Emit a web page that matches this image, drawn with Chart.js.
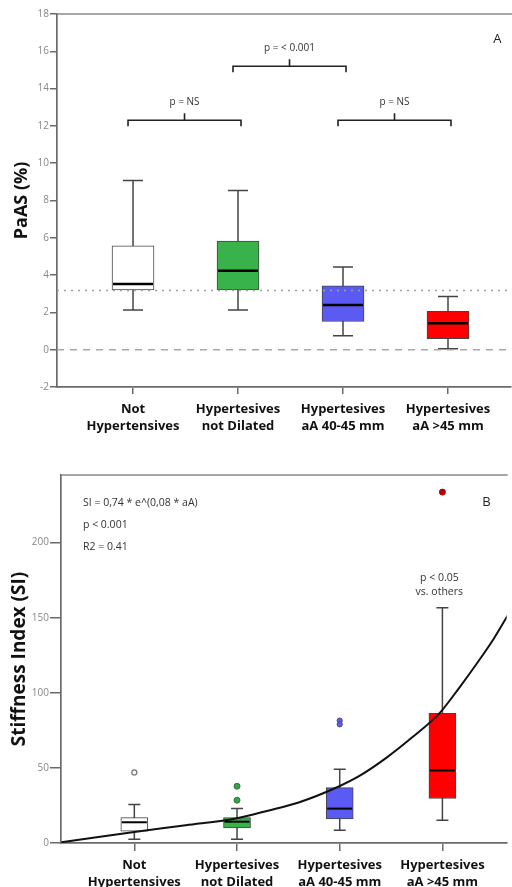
<!DOCTYPE html>
<html>
<head>
<meta charset="utf-8">
<script src="https://cdn.jsdelivr.net/npm/chart.js@4.4.1/dist/chart.umd.min.js"></script>
<style>
  body { margin: 0; background: #fff; }
  canvas { display: block; }
</style>
</head>
<body>
<canvas id="paasChart" width="512" height="445"></canvas>
<canvas id="siChart" width="512" height="442"></canvas>
<script>
var groups = [["Not", "Hypertensives"], ["Hypertesives", "not Dilated"], ["Hypertesives", "aA 40-45 mm"], ["Hypertesives", "aA >45 mm"]];
var groupPos = [0, 1, 2, 3];
var boxColors = ['#ffffff', '#38b24a', '#5b5bf3', '#ff0000'];

// panel A: PaAS (%)
var paasLow = [2.13, 2.13, 0.75, 0.05];
var paasQ1 = [3.2, 3.2, 1.51, 0.59];
var paasMedian = [3.52, 4.23, 2.40, 1.42];
var paasQ3 = [5.57, 5.83, 3.42, 2.06];
var paasHigh = [9.07, 8.54, 4.43, 2.85];
var paasTicks = [-2, 0, 2, 4, 6, 8, 10, 12, 14, 16, 18];
var paasDotted = 3.17;
var paasCompare = [[0, 1, 12.3, 'p = NS'], [1, 2, 15.2, 'p = < 0.001'], [2, 3, 12.3, 'p = NS']];

// panel B: Stiffness Index (SI)
var siLow = [2.5, 2.5, 8.5, 15.1];
var siQ1 = [7.8, 10, 16, 29.6];
var siMedian = [13.8, 14.2, 22.9, 48.3];
var siQ3 = [16.9, 16.9, 36.9, 86.3];
var siHigh = [25.6, 22.9, 49.1, 156.7];
var siOutliers = [[47], [37.8, 28.5], [81.5, 79], [233.6]];
var siTicks = [0, 50, 100, 150, 200];
// exponential fit, points
var fitX = [-0.71, -0.35, 0, 0.5, 1.0, 1.3, 1.6, 1.98, 2.2, 2.46, 2.7, 2.97, 3.16, 3.33, 3.5, 3.64];
var fitY = [0.5, 4, 7.3, 11.8, 16.5, 21.5, 27, 37.3, 45, 57, 70, 86.3, 103, 119, 136, 152];

var fontFam = "'Open Sans', 'DejaVu Sans', sans-serif";
var axisGray = '#6a6a6a';

function boxPlugin(low, high, median, capW, medW) {
  return {
    id: 'boxes',
    beforeDatasetsDraw: function(chart) {
      var ctx = chart.ctx, xs = chart.scales.x, ys = chart.scales.y;
      ctx.save();
      ctx.strokeStyle = '#444';
      ctx.lineWidth = 1.5;
      for (var i = 0; i < groupPos.length; i++) {
        var x = xs.getPixelForValue(groupPos[i]);
        var y1 = ys.getPixelForValue(low[i]), y2 = ys.getPixelForValue(high[i]);
        ctx.beginPath();
        ctx.moveTo(x, y1); ctx.lineTo(x, y2);
        ctx.moveTo(x - capW / 2, y1); ctx.lineTo(x + capW / 2, y1);
        ctx.moveTo(x - capW / 2, y2); ctx.lineTo(x + capW / 2, y2);
        ctx.stroke();
      }
      ctx.restore();
    },
    afterDatasetsDraw: function(chart) {
      var ctx = chart.ctx, xs = chart.scales.x, ys = chart.scales.y;
      ctx.save();
      ctx.strokeStyle = '#000';
      ctx.lineWidth = medW;
      for (var i = 0; i < groupPos.length; i++) {
        var x = xs.getPixelForValue(groupPos[i]);
        var w = chart.getDatasetMeta(chart.data.datasets.length - 1).data[i].width;
        var y = ys.getPixelForValue(median[i]);
        ctx.beginPath();
        ctx.moveTo(x - w / 2 + 1, y); ctx.lineTo(x + w / 2 - 1, y);
        ctx.stroke();
      }
      ctx.restore();
    }
  };
}

var framePlugin = {
  id: 'frame',
  afterDraw: function(chart) {
    var ctx = chart.ctx, a = chart.chartArea;
    ctx.save();
    ctx.strokeStyle = '#8a8a8a';
    ctx.lineWidth = 1.5;
    ctx.beginPath();
    ctx.moveTo(a.left, a.top); ctx.lineTo(a.right + 1, a.top);
    ctx.stroke();
    ctx.restore();
  }
};

function textPlugin(items) {
  return {
    id: 'texts',
    afterDraw: function(chart) {
      var ctx = chart.ctx, xs = chart.scales.x, ys = chart.scales.y;
      ctx.save();
      ctx.textBaseline = 'middle';
      items.forEach(function(t) {
        ctx.font = t.font;
        ctx.fillStyle = t.color || '#333';
        ctx.textAlign = t.align || 'center';
        ctx.fillText(t.text, xs.getPixelForValue(t.x), ys.getPixelForValue(t.y));
      });
      ctx.restore();
    }
  };
}

var bracketPlugin = {
  id: 'brackets',
  afterDraw: function(chart) {
    var ctx = chart.ctx, xs = chart.scales.x, ys = chart.scales.y;
    ctx.save();
    ctx.strokeStyle = '#222';
    ctx.lineWidth = 1.6;
    paasCompare.forEach(function(c) {
      var x1 = xs.getPixelForValue(c[0]) - 5, x2 = xs.getPixelForValue(c[1]) + 3;
      var y = ys.getPixelForValue(c[2]);
      var xm = (x1 + x2) / 2;
      ctx.beginPath();
      ctx.moveTo(x1, y + 6); ctx.lineTo(x1, y); ctx.lineTo(x2, y); ctx.lineTo(x2, y + 6);
      ctx.moveTo(xm, y); ctx.lineTo(xm, y - 7);
      ctx.stroke();
      ctx.font = '10px ' + fontFam;
      ctx.fillStyle = '#333';
      ctx.textAlign = 'center';
      ctx.textBaseline = 'middle';
      ctx.fillText(c[3], xm, y - 18);
    });
    ctx.restore();
  }
};

function xAxis(min, max, height, tickLen, pad) {
  return {
    type: 'linear', min: min, max: max, offset: false,
    afterBuildTicks: function(s) { s.ticks = groupPos.map(function(v) { return { value: v }; }); },
    afterFit: function(s) { s.height = height; },
    ticks: {
      callback: function(v) { return groups[v]; },
      font: { family: fontFam, weight: 'bold', size: 13, lineHeight: 1.3 },
      color: '#111', padding: pad, maxRotation: 0, autoSkip: false
    },
    grid: { display: true, offset: false, drawOnChartArea: false, tickLength: tickLen, color: axisGray, lineWidth: 1.5 },
    border: { color: axisGray, width: 1.7 }
  };
}

function yAxis(min, max, tickVals, width, tickLen, title, titleSize, titlePad) {
  return {
    type: 'linear', min: min, max: max,
    afterBuildTicks: function(s) { s.ticks = tickVals.map(function(v) { return { value: v }; }); },
    afterFit: function(s) { s.width = width; },
    ticks: { font: { family: fontFam, size: 10 }, color: '#888', padding: 1 },
    grid: { display: true, drawOnChartArea: false, tickLength: tickLen, color: axisGray, lineWidth: 1.5 },
    border: { color: axisGray, width: 1.7 },
    title: { display: true, text: title, color: '#111', font: { family: fontFam, weight: 'bold', size: titleSize }, padding: { top: titlePad, bottom: 0 } }
  };
}

function boxData(q1, q3) {
  return groupPos.map(function(p, i) { return { x: p, y: [q1[i], q3[i]] }; });
}

var commonOpts = {
  responsive: false,
  devicePixelRatio: 1,
  animation: false,
  plugins: { legend: { display: false }, tooltip: { enabled: false } }
};

var ctxA = document.getElementById('paasChart').getContext('2d');
var chartA = new Chart(ctxA, {
  type: 'bar',
  data: {
    datasets: [
      {
        type: 'line', data: [{ x: -0.724, y: paasDotted }, { x: 3.6, y: paasDotted }],
        borderColor: '#a0a0a0', borderWidth: 1.5, borderDash: [2, 5], pointRadius: 0
      },
      {
        type: 'line', data: [{ x: -0.724, y: 0 }, { x: 3.6, y: 0 }],
        borderColor: '#a8a8a8', borderWidth: 1.5, borderDash: [7, 6], pointRadius: 0
      },
      {
        type: 'bar', data: boxData(paasQ1, paasQ3),
        backgroundColor: boxColors, borderColor: '#444', borderWidth: 1,
        borderSkipped: false, barThickness: 42
      }
    ]
  },
  options: Object.assign({}, commonOpts, {
    layout: { padding: { top: 14, right: 1, left: 0, bottom: 0 } },
    scales: {
      x: xAxis(-0.724, 3.6, 58, 7, 6.5),
      y: yAxis(-2, 18, paasTicks, 57, 7, 'PaAS (%)', 18, 11)
    }
  }),
  plugins: [boxPlugin(paasLow, paasHigh, paasMedian, 20, 2.5), framePlugin, bracketPlugin,
    textPlugin([{ text: 'A', x: 3.47, y: 16.65, font: '13px ' + fontFam, color: '#222' }])]
});

function outlierPoints(k) {
  return siOutliers[k].map(function(v) { return { x: groupPos[k], y: v }; });
}

var ctxB = document.getElementById('siChart').getContext('2d');
var chartB = new Chart(ctxB, {
  type: 'bar',
  data: {
    datasets: [
      {
        type: 'line', data: fitX.map(function(x, i) { return { x: x, y: fitY[i] }; }),
        borderColor: '#111', borderWidth: 2, pointRadius: 0, cubicInterpolationMode: 'monotone'
      },
      { type: 'scatter', data: outlierPoints(0), pointRadius: 2.5, pointBackgroundColor: '#fff', pointBorderColor: '#777', pointBorderWidth: 1.3 },
      { type: 'scatter', data: outlierPoints(1), pointRadius: 3, pointBackgroundColor: '#3aa048', pointBorderColor: '#2d7a38', pointBorderWidth: 1 },
      { type: 'scatter', data: outlierPoints(2), pointRadius: 2.6, pointBackgroundColor: '#6060e0', pointBorderColor: '#4444aa', pointBorderWidth: 1 },
      { type: 'scatter', data: outlierPoints(3), pointRadius: 3, pointBackgroundColor: '#b80000', pointBorderColor: '#a00000', pointBorderWidth: 1 },
      {
        type: 'bar', data: boxData(siQ1, siQ3),
        backgroundColor: boxColors, borderColor: '#444', borderWidth: 1,
        borderSkipped: false, barThickness: 27
      }
    ]
  },
  options: Object.assign({}, commonOpts, {
    layout: { padding: { top: 30, right: 1, left: 0, bottom: 0 } },
    scales: {
      x: xAxis(-0.714, 3.626, 44, 8, 5.5),
      y: yAxis(0, 245, siTicks, 61, 11, 'Stiffness Index (SI)', 19, 8)
    }
  }),
  plugins: [boxPlugin(siLow, siHigh, siMedian, 12, 2), framePlugin,
    textPlugin([
      { text: 'B', x: 3.43, y: 227, font: '13px ' + fontFam, color: '#222' },
      { text: 'SI = 0,74 * e^(0,08 * aA)', x: -0.5, y: 226.5, font: '10.5px ' + fontFam, align: 'left' },
      { text: 'p < 0.001', x: -0.5, y: 211.8, font: '10.5px ' + fontFam, align: 'left' },
      { text: 'R2 = 0.41', x: -0.5, y: 197.1, font: '10.5px ' + fontFam, align: 'left' },
      { text: 'p < 0.05', x: 2.97, y: 176.5, font: '10.5px ' + fontFam },
      { text: 'vs. others', x: 2.97, y: 167.2, font: '10.5px ' + fontFam }
    ])]
});
</script>
</body>
</html>
